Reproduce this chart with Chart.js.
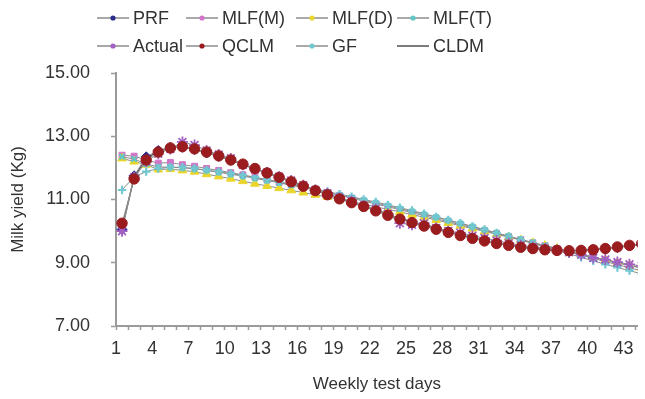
<!DOCTYPE html>
<html>
<head>
<meta charset="utf-8">
<script src="https://cdn.jsdelivr.net/npm/chart.js@4/dist/chart.umd.min.js"></script>
<style>
  html, body { margin: 0; padding: 0; background: #fff; }
  #wrap { width: 645px; height: 399px; }
</style>
</head>
<body>
<div id="wrap"><canvas id="chart" width="645" height="399"></canvas></div>
<script>
// weekly test days
const testDays = [1, 2, 3, 4, 5, 6, 7, 8, 9, 10, 11, 12, 13, 14, 15, 16, 17, 18, 19, 20, 21, 22,
  23, 24, 25, 26, 27, 28, 29, 30, 31, 32, 33, 34, 35, 36, 37, 38, 39, 40, 41, 42, 43, 44];

// milk yield (Kg) per model
const prf = [10.05, 11.75, 12.35, 12.55, 12.65, 12.65, 12.58, 12.47, 12.36, 12.24, 12.1, 11.97, 11.83, 11.7,
  11.56, 11.42, 11.29, 11.16, 11.03, 10.91, 10.79, 10.66, 10.53, 10.41, 10.3, 10.19, 10.09, 9.99, 9.89, 9.8,
  9.71, 9.63, 9.56, 9.5, 9.45, 9.41, 9.39, 9.38, 9.39, 9.41, 9.44, 9.48, 9.53, 9.58];
const mlfM = [12.4, 12.37, 12.25, 12.15, 12.17, 12.1, 12.05, 11.98, 11.92, 11.85, 11.78, 11.7, 11.62, 11.54,
  11.46, 11.38, 11.3, 11.22, 11.13, 11.04, 10.95, 10.86, 10.77, 10.68, 10.58, 10.49, 10.39, 10.3, 10.2, 10.11,
  10.01, 9.92, 9.82, 9.73, 9.63, 9.54, 9.45, 9.36, 9.27, 9.18, 9.09, 9.0, 8.91, 8.83];
const mlfD = [12.3, 12.2, 12.1, 11.95, 11.96, 11.92, 11.88, 11.8, 11.73, 11.66, 11.58, 11.5, 11.43, 11.36,
  11.29, 11.22, 11.15, 11.08, 11.0, 10.93, 10.85, 10.77, 10.69, 10.61, 10.52, 10.44, 10.35, 10.26, 10.17, 10.08,
  9.99, 9.9, 9.81, 9.72, 9.63, 9.54, 9.45, 9.36, 9.27, 9.18, 9.09, 9.0, 8.92, 8.84];
const mlfT = [12.35, 12.28, 12.12, 12.03, 12.02, 12.0, 11.97, 11.92, 11.86, 11.8, 11.74, 11.67, 11.6, 11.53,
  11.45, 11.38, 11.3, 11.22, 11.14, 11.06, 10.98, 10.89, 10.8, 10.71, 10.62, 10.53, 10.44, 10.34, 10.24, 10.14,
  10.04, 9.94, 9.84, 9.74, 9.64, 9.54, 9.44, 9.34, 9.24, 9.14, 9.04, 8.94, 8.84, 8.74];
const actual = [10.0, 11.7, 12.2, 12.45, 12.6, 12.82, 12.72, 12.55, 12.42, 12.3, 12.1, 11.95, 11.85, 11.72,
  11.6, 11.45, 11.3, 11.2, 11.05, 10.95, 10.8, 10.7, 10.55, 10.25, 10.2, 10.25, 10.1, 10.0, 9.95, 9.85,
  9.78, 9.7, 9.62, 9.55, 9.5, 9.45, 9.4, 9.33, 9.25, 9.15, 9.1, 9.02, 8.95, 8.9];
const qclm = [10.25, 11.65, 12.25, 12.5, 12.63, 12.67, 12.6, 12.5, 12.38, 12.25, 12.12, 11.98, 11.84, 11.7,
  11.56, 11.42, 11.28, 11.15, 11.02, 10.9, 10.78, 10.64, 10.5, 10.38, 10.27, 10.16, 10.06, 9.96, 9.86, 9.77,
  9.69, 9.61, 9.55, 9.49, 9.45, 9.41, 9.39, 9.38, 9.39, 9.41, 9.45, 9.5, 9.55, 9.6];
const gf = [11.3, 11.72, 11.88, 11.98, 12.02, 12.02, 11.98, 11.93, 11.88, 11.82, 11.76, 11.7, 11.63, 11.56,
  11.49, 11.41, 11.33, 11.25, 11.17, 11.09, 11.0, 10.92, 10.83, 10.74, 10.65, 10.55, 10.45, 10.35, 10.25, 10.15,
  10.05, 9.94, 9.83, 9.72, 9.61, 9.5, 9.39, 9.28, 9.17, 9.06, 8.95, 8.85, 8.75, 8.65];
const cldm = [10.1, 11.7, 12.3, 12.52, 12.64, 12.66, 12.59, 12.48, 12.37, 12.25, 12.11, 11.98, 11.84, 11.7,
  11.56, 11.42, 11.29, 11.16, 11.03, 10.9, 10.78, 10.65, 10.52, 10.4, 10.29, 10.18, 10.08, 9.98, 9.88, 9.79,
  9.7, 9.62, 9.55, 9.5, 9.45, 9.41, 9.39, 9.38, 9.39, 9.41, 9.45, 9.49, 9.54, 9.59];

const yTicks = [7, 9, 11, 13, 15];

const FONT = '"Liberation Sans", Arial, sans-serif';
const TEXT = '#333333';
const LINE = '#8c8c8c';
const AXIS = '#9a9a9a';

function series(label, values, color, style, radius, order, extra) {
  return Object.assign({
    label: label,
    data: values.map((v, i) => ({ x: testDays[i], y: v })),
    borderColor: LINE,
    borderWidth: 1,
    pointBackgroundColor: color,
    pointBorderColor: color,
    pointStyle: style,
    pointRadius: radius,
    pointBorderWidth: 1,
    markerColor: color,
    tension: 0,
    order: order
  }, extra || {});
}

const datasets = [
  series('PRF', prf, '#2b2b88', 'rectRot', 5, 6),
  series('MLF(M)', mlfM, '#d274c8', 'rect', 4.2, 5),
  series('MLF(D)', mlfD, '#ead62a', 'triangle', 5, 4),
  series('MLF(T)', mlfT, '#62c6c6', 'crossRot', 3.8, 3, { pointBorderWidth: 2.2 }),
  series('Actual', actual, '#a260c2', 'star', 5.5, 1, { pointBorderWidth: 1.8 }),
  series('QCLM', qclm, '#9a1c1e', 'circle', 5.2, 0),
  series('GF', gf, '#72c8d2', 'cross', 4.2, 2, { pointBorderWidth: 2.2 }),
  series('CLDM', cldm, '#444444', 'line', 0, 7, { borderColor: '#505050', borderWidth: 1.3 })
];

// Excel-like legend laid out in a 4x2 grid
const legendCols = [97, 186, 296, 397];
const legendRows = [18, 46];

const gridLegend = {
  id: 'gridLegend',
  afterDraw(chart) {
    const ctx = chart.ctx;
    chart.data.datasets.forEach((ds, i) => {
      const x = legendCols[i % 4];
      const y = legendRows[Math.floor(i / 4)];
      ctx.save();
      ctx.strokeStyle = ds.borderColor;
      ctx.lineWidth = 1.5;
      ctx.beginPath();
      ctx.moveTo(x, y);
      ctx.lineTo(x + 32, y);
      ctx.stroke();
      if (ds.pointRadius > 0) {
        ctx.fillStyle = ds.markerColor;
        ctx.beginPath();
        ctx.arc(x + 16, y, 2.6, 0, Math.PI * 2);
        ctx.fill();
      }
      ctx.fillStyle = TEXT;
      ctx.font = '18px ' + FONT;
      ctx.textBaseline = 'middle';
      ctx.textAlign = 'left';
      ctx.fillText(ds.label, x + 36, y + 1);
      ctx.restore();
    });
  }
};

new Chart(document.getElementById('chart'), {
  type: 'line',
  data: { datasets: datasets },
  options: {
    responsive: false,
    animation: false,
    layout: { padding: { top: 73, right: 0, bottom: 0, left: 0 } },
    plugins: {
      legend: { display: false },
      tooltip: { enabled: false }
    },
    scales: {
      x: {
        type: 'linear',
        min: 0.5,
        max: 43.68,
        afterBuildTicks: (axis) => {
          axis.ticks = testDays.map(d => ({ value: d - 0.5 }));
        },
        afterFit: (axis) => { axis.height = 73; },
        border: { color: AXIS, width: 2 },
        grid: { drawOnChartArea: false, tickLength: 4, color: AXIS, tickWidth: 1.5 },
        ticks: {
          autoSkip: false,
          maxRotation: 0,
          padding: 8,
          color: TEXT,
          font: { family: FONT, size: 18 },
          callback: (value) => {
            const day = Math.round(value + 0.5);
            return (day - 1) % 3 === 0 ? String(day) : '';
          }
        },
        title: {
          display: true,
          text: 'Weekly test days',
          color: TEXT,
          font: { family: FONT, size: 17 },
          padding: { top: 0, bottom: 4 }
        }
      },
      y: {
        min: 7,
        max: 15,
        afterBuildTicks: (axis) => {
          axis.ticks = yTicks.map(v => ({ value: v }));
        },
        afterFit: (axis) => { axis.width = 116; },
        border: { color: AXIS, width: 2 },
        grid: { drawOnChartArea: false, tickLength: 5, color: AXIS, tickWidth: 1.5 },
        ticks: {
          padding: 21,
          color: TEXT,
          font: { family: FONT, size: 18 },
          callback: (value) => Number(value).toFixed(2)
        },
        title: {
          display: true,
          text: 'Milk yield (Kg)',
          color: TEXT,
          font: { family: FONT, size: 17 },
          padding: { top: 8, bottom: 0 }
        }
      }
    }
  },
  plugins: [gridLegend]
});
</script>
</body>
</html>
